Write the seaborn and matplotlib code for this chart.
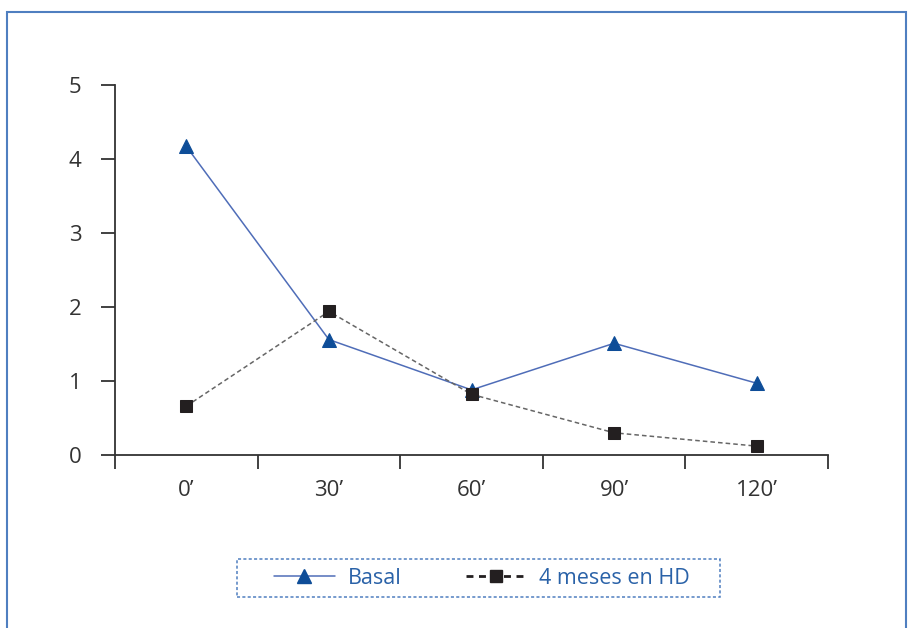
import matplotlib
matplotlib.use("Agg")
import matplotlib.pyplot as plt
import seaborn as sns
import pandas as pd
from matplotlib.lines import Line2D
from matplotlib.patches import Rectangle

sns.set_style("white")
plt.rcParams['font.family'] = ['Open Sans', 'DejaVu Sans']

# --- data ---
tiempos = ["0\u2019", "30\u2019", "60\u2019", "90\u2019", "120\u2019"]
basal = [4.17, 1.56, 0.88, 1.51, 0.97]
hd_4_meses = [0.66, 1.94, 0.82, 0.30, 0.12]

df = pd.DataFrame({"tiempo": tiempos, "Basal": basal, "4 meses en HD": hd_4_meses})

fig = plt.figure(figsize=(9.09, 6.28), dpi=100)
ax = fig.add_axes([115 / 909, 1 - 455 / 628, (828 - 115) / 909, (455 - 85) / 628])

# outer blue frame
fig.patches.append(Rectangle((7 / 909, -0.05), 899 / 909, 1 - 12 / 628 + 0.05,
                             transform=fig.transFigure, fill=False,
                             edgecolor="#4f7fc0", linewidth=1.5))

sns.lineplot(data=df, x="tiempo", y="Basal", ax=ax, color="#4f6db8", linewidth=1.1,
             marker="^", markersize=10, markerfacecolor="#0e4d98",
             markeredgecolor="#0e4d98", sort=False)
sns.lineplot(data=df, x="tiempo", y="4 meses en HD", ax=ax, color="#666666",
             linewidth=1.1, linestyle=(0, (3, 2)), marker="s", markersize=8.5,
             markerfacecolor="#231f20", markeredgecolor="#231f20", sort=False)

ax.set_xlim(-0.5, 4.5)
ax.set_ylim(0, 5)
ax.set_yticks([0, 1, 2, 3, 4, 5])
ax.set_xlabel("")
ax.set_ylabel("")

# category separator ticks on the x axis
ax.set_xticks([-0.5, 0.5, 1.5, 2.5, 3.5, 4.5], minor=True)
ax.set_xticks(range(len(tiempos)))
ax.set_xticklabels(tiempos)
ax.tick_params(axis="x", which="major", length=0, pad=18, labelsize=16, labelcolor="#333333")
ax.tick_params(axis="x", which="minor", length=10, width=1.3, color="#333333", direction="out", bottom=True)
ax.tick_params(axis="y", length=10, width=1.3, color="#333333", direction="out", left=True,
               pad=14, labelsize=16, labelcolor="#333333")

for s in ["top", "right"]:
    ax.spines[s].set_visible(False)
for s in ["left", "bottom"]:
    ax.spines[s].set_color("#333333")
    ax.spines[s].set_linewidth(1.3)

# dashed legend box
fig.patches.append(Rectangle((237 / 909, 1 - 597 / 628), 483 / 909, 38 / 628,
                             transform=fig.transFigure, fill=False,
                             edgecolor="#4f7fc0", linewidth=1.1, linestyle=(0, (2, 1.5))))

handles = [
    Line2D([], [], color="#4f6db8", linewidth=1.1, marker="^", markersize=10,
           markerfacecolor="#0e4d98", markeredgecolor="#0e4d98"),
    Line2D([], [], color="#231f20", linewidth=2.0, linestyle=(0, (2.5, 2)), marker="s",
           markersize=8, markerfacecolor="#231f20", markeredgecolor="#231f20"),
]
leg = fig.legend(handles, ["Basal", "4 meses en HD"], loc="center",
                 bbox_to_anchor=(482 / 909, 1 - 578 / 628), ncol=2, fontsize=15.5,
                 handlelength=2.8, handletextpad=0.6, columnspacing=3.0,
                 frameon=False, labelcolor="#2a62a8")

fig.savefig("out.png", dpi=100)
